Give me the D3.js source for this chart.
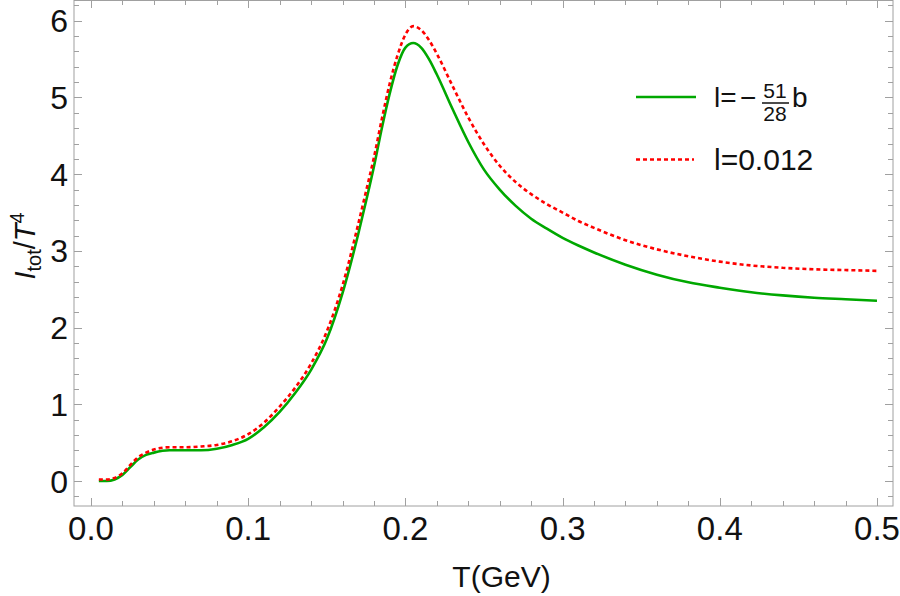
<!DOCTYPE html>
<html>
<head>
<meta charset="utf-8">
<script src="https://cdn.jsdelivr.net/npm/d3@7"></script>
<style>
  body { margin: 0; background: #fff; }
  svg { display: block; font-family: "Liberation Sans", Arial, sans-serif; }
</style>
</head>
<body>
<div id="chart"></div>
<script>
// chart data
const temps = [0.005, 0.01, 0.015, 0.02, 0.025, 0.03, 0.035, 0.04, 0.05, 0.06, 0.07, 0.08, 0.09,
  0.10, 0.11, 0.12, 0.13, 0.14, 0.15, 0.16, 0.17, 0.175, 0.18, 0.185, 0.19, 0.195, 0.20, 0.205,
  0.21, 0.215, 0.22, 0.23, 0.24, 0.25, 0.26, 0.27, 0.28, 0.29, 0.30, 0.31, 0.32, 0.34, 0.36, 0.38, 0.40,
  0.42, 0.44, 0.46, 0.48, 0.50];
const greenVals = [0.00, 0.00, 0.02, 0.08, 0.18, 0.28, 0.34, 0.37, 0.40, 0.40, 0.40, 0.42, 0.47,
  0.55, 0.70, 0.90, 1.15, 1.45, 1.85, 2.45, 3.22, 3.65, 4.10, 4.60, 5.05, 5.42, 5.65, 5.71,
  5.65, 5.50, 5.30, 4.85, 4.42, 4.06, 3.80, 3.59, 3.42, 3.29, 3.17, 3.07, 2.98, 2.82, 2.69, 2.59, 2.52,
  2.46, 2.42, 2.39, 2.37, 2.35];
const redVals = [0.02, 0.02, 0.04, 0.10, 0.21, 0.31, 0.37, 0.41, 0.44, 0.44, 0.45, 0.47, 0.52,
  0.61, 0.76, 0.97, 1.22, 1.53, 1.95, 2.55, 3.35, 3.78, 4.22, 4.72, 5.18, 5.55, 5.82, 5.93,
  5.88, 5.75, 5.57, 5.15, 4.74, 4.39, 4.11, 3.90, 3.74, 3.61, 3.50, 3.39, 3.30, 3.14, 3.02, 2.93, 2.86,
  2.81, 2.78, 2.76, 2.75, 2.74];
const xTickVals = [0, 0.1, 0.2, 0.3, 0.4, 0.5];
const yTickVals = [0, 1, 2, 3, 4, 5, 6];
const legendLabels = ["l=0.012"];

const width = 900, height = 596;
const frame = { left: 74, right: 893, top: 0, bottom: 506 };

const svg = d3.select("#chart").append("svg")
  .attr("width", width)
  .attr("height", height);

const x = d3.scaleLinear().domain([0, 0.5]).range([91, 877]);
const y = d3.scaleLinear().domain([0, 6]).range([481, 20.8]);

const frameColor = "#a0a0a0";

// frame
svg.append("rect")
  .attr("x", frame.left).attr("y", frame.top + 0.5)
  .attr("width", frame.right - frame.left)
  .attr("height", frame.bottom - frame.top - 0.5)
  .attr("fill", "none")
  .attr("stroke", frameColor)
  .attr("stroke-width", 1);

// ticks (major + minor) on all four sides
const xMinor = d3.range(0, 0.5001, 0.02);
const yMinor = d3.range(-0.2, 6.2001, 0.2);
const isMajor = v => Math.abs(v * 10 - Math.round(v * 10)) < 1e-6;
const isMajorY = v => Math.abs(v - Math.round(v)) < 1e-6;

const ticks = svg.append("g").attr("stroke", frameColor).attr("stroke-width", 1);
xMinor.forEach(v => {
  const len = isMajor(v) ? 8 : 5;
  const px = Math.round(x(v)) + 0.5;
  ticks.append("line").attr("x1", px).attr("x2", px).attr("y1", frame.bottom).attr("y2", frame.bottom - len);
  ticks.append("line").attr("x1", px).attr("x2", px).attr("y1", frame.top).attr("y2", frame.top + len);
});
yMinor.forEach(v => {
  const len = isMajorY(v) ? 8 : 5;
  const py = Math.round(y(v)) + 0.5;
  ticks.append("line").attr("x1", frame.left).attr("x2", frame.left + len).attr("y1", py).attr("y2", py);
  ticks.append("line").attr("x1", frame.right).attr("x2", frame.right - len).attr("y1", py).attr("y2", py);
});

// tick labels
svg.append("g").selectAll("text")
  .data(xTickVals)
  .enter().append("text")
  .attr("x", d => x(d))
  .attr("y", 540)
  .attr("text-anchor", "middle")
  .attr("font-size", 33)
  .attr("fill", "#111")
  .text(d => d3.format(".1f")(d));

svg.append("g").selectAll("text")
  .data(yTickVals)
  .enter().append("text")
  .attr("x", 68)
  .attr("y", d => y(d))
  .attr("dy", "0.36em")
  .attr("text-anchor", "end")
  .attr("font-size", 32)
  .attr("fill", "#111")
  .text(d => d);

// axis titles
svg.append("text")
  .attr("x", (frame.left + frame.right) / 2 + 18)
  .attr("y", 587)
  .attr("text-anchor", "middle")
  .attr("font-size", 30)
  .attr("fill", "#111")
  .text("T(GeV)");

const yTitle = svg.append("text")
  .attr("transform", "translate(35,246) rotate(-90)")
  .attr("text-anchor", "middle")
  .attr("font-size", 29)
  .attr("fill", "#111");
yTitle.append("tspan").attr("font-style", "italic").text("I");
yTitle.append("tspan").attr("font-size", 20).attr("dy", 6).text("tot");
yTitle.append("tspan").attr("dy", -6).text("/");
yTitle.append("tspan").attr("font-style", "italic").text("T");
yTitle.append("tspan").attr("font-size", 20).attr("dy", -11).text("4");

// curves
svg.append("clipPath").attr("id", "clip")
  .append("rect")
  .attr("x", frame.left).attr("y", frame.top)
  .attr("width", frame.right - frame.left).attr("height", frame.bottom - frame.top);

const line = d3.line()
  .x(d => x(d[0]))
  .y(d => y(d[1]))
  .curve(d3.curveMonotoneX);

const greenData = temps.map((t, i) => [t, greenVals[i]]);
const redData = temps.map((t, i) => [t, redVals[i]]);

const plot = svg.append("g").attr("clip-path", "url(#clip)");
plot.append("path")
  .datum(greenData)
  .attr("d", line)
  .attr("fill", "none")
  .attr("stroke", "#00a800")
  .attr("stroke-width", 2.6);

plot.append("path")
  .datum(redData)
  .attr("d", line)
  .attr("fill", "none")
  .attr("stroke", "#ff0000")
  .attr("stroke-width", 2.6)
  .attr("stroke-dasharray", "4,3");

// legend
const legend = svg.append("g").attr("fill", "#111");
legend.append("line")
  .attr("x1", 636).attr("x2", 696).attr("y1", 97).attr("y2", 97)
  .attr("stroke", "#00a800").attr("stroke-width", 2.6);
legend.append("text")
  .attr("x", 714).attr("y", 107)
  .attr("font-size", 28)
  .text("l=");
legend.append("text")
  .attr("x", 740).attr("y", 107)
  .attr("font-size", 28)
  .text("\u2212");
legend.append("text")
  .attr("x", 775).attr("y", 98).attr("text-anchor", "middle")
  .attr("font-size", 21).text("51");
legend.append("line")
  .attr("x1", 762).attr("x2", 789).attr("y1", 103).attr("y2", 103)
  .attr("stroke", "#111").attr("stroke-width", 1.5);
legend.append("text")
  .attr("x", 775).attr("y", 121).attr("text-anchor", "middle")
  .attr("font-size", 21).text("28");
legend.append("text")
  .attr("x", 792).attr("y", 107)
  .attr("font-size", 28)
  .text("b");

legend.append("line")
  .attr("x1", 636).attr("x2", 694).attr("y1", 159.5).attr("y2", 159.5)
  .attr("stroke", "#ff0000").attr("stroke-width", 2.6)
  .attr("stroke-dasharray", "4,3");
legend.append("text")
  .attr("x", 714).attr("y", 170)
  .attr("font-size", 30)
  .text(legendLabels[0]);
</script>
</body>
</html>
